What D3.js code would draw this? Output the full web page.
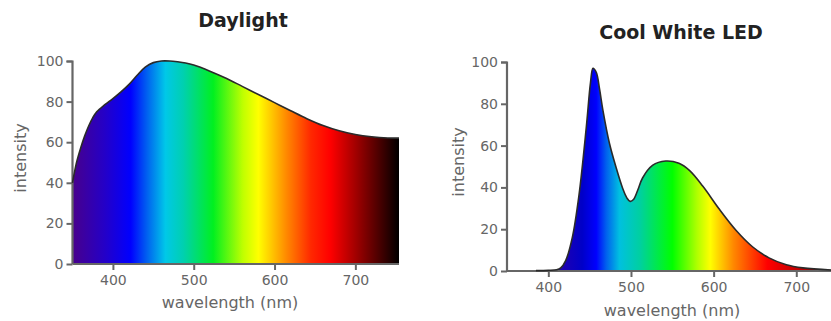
<!DOCTYPE html>
<html><head><meta charset="utf-8">
<script src="https://cdn.jsdelivr.net/npm/d3@7"></script>
<style>
html,body{margin:0;padding:0;background:#fff;}
svg{display:block;}
text{font-family:"DejaVu Sans",sans-serif;}
</style></head>
<body>
<svg id="c" width="831" height="321"></svg>
<script>
// ---- data ----
const yTicks = [0, 20, 40, 60, 80, 100];
const xTicks = [400, 500, 600, 700];

const dayWl  = [350,355,360,365,370,375,380,390,400,410,420,430,440,450,460,470,480,490,500,520,540,560,580,600,620,640,660,680,700,720,740,754];
const dayVal = [40,50,57,63,68,72,75,78.5,81.5,84.8,88.5,93,97,99.2,100,100,99.6,99,98,95,91.5,87.5,83.5,79.5,75.5,71.6,68.2,65.6,63.8,62.7,62.1,62];

const ledWl  = [385,400,410,415,421,429,437,446,451,454,458,462,466,474,482,490,495,499,503,508,514,526,542,558,571,587,607,627,647,667,688,708,742];
const ledVal = [0.2,0.3,0.6,1.5,5,16,36,69,90,97,95,87,77,61,49.5,39.5,35,33.3,34.2,38.5,44.5,50.5,52.6,51.5,48,40.5,29.5,19.5,11.6,6.3,3,1.5,0.5];

const dayStopWl  = [350,390,422,442,465,487,524,561,580,615,645,669,701,754];
const dayStopCol = ["#48008c","#2400c8","#0000ff","#0060f0","#00c8e8","#00d0b0","#00f020","#c0ff00","#ffff00","#ff8800","#ff2800","#ff0000","#a00000","#000000"];

const ledStopWl  = [415,441,458,470,486,511,550,580,596,624,665,713,742];
const ledStopCol = ["#2000b0","#0000c8","#0000ff","#0060ee","#00c0e0","#00d0a0","#00ff00","#b0ff00","#ffff00","#ff8800","#ff0000","#b00000","#700000"];

const charts = [
  {title:"Daylight", wl:dayWl, val:dayVal, stopWl:dayStopWl, stopCol:dayStopCol,
   xd:[350,754], xr:[72.5,399], yr:[264,61], titleX:243, titleY:27, xlabX:230, xlabY:308, ylabX:26, ylabY:158, id:"g1"},
  {title:"Cool White LED", wl:ledWl, val:ledVal, stopWl:ledStopWl, stopCol:ledStopCol,
   xd:[350,742], xr:[507,831], yr:[271,62], titleX:681, titleY:39, xlabX:672, xlabY:316, ylabX:464, ylabY:162, id:"g2"}
];

const svg = d3.select("#c");
const defs = svg.append("defs");
const gray = "#666";

charts.forEach(c => {
  const x = d3.scaleLinear().domain(c.xd).range(c.xr);
  const y = d3.scaleLinear().domain([0,100]).range(c.yr);
  const pts = c.wl.map((w,i)=>[w,c.val[i]]);

  const grad = defs.append("linearGradient").attr("id", c.id)
    .attr("gradientUnits","userSpaceOnUse")
    .attr("x1", x(c.stopWl[0])).attr("x2", x(c.stopWl[c.stopWl.length-1]))
    .attr("y1",0).attr("y2",0);
  const span = c.stopWl[c.stopWl.length-1]-c.stopWl[0];
  c.stopWl.forEach((w,i)=>{
    grad.append("stop").attr("offset", (w-c.stopWl[0])/span).attr("stop-color", c.stopCol[i]);
  });

  const g = svg.append("g");
  const crv = d3.curveCatmullRom.alpha(0.5);
  const area = d3.area().x(d=>x(d[0])).y0(y(0)).y1(d=>y(Math.max(0,d[1]))).curve(crv);
  const line = d3.line().x(d=>x(d[0])).y(d=>y(d[1])).curve(crv);

  g.append("path").datum(pts).attr("d", area).attr("fill", `url(#${c.id})`);

  // axes
  const yAxis = d3.axisLeft(y).tickValues(yTicks).tickSize(6).tickPadding(3);
  const ya = g.append("g").attr("transform", `translate(${c.xr[0]},0)`).call(yAxis);
  const xAxis = d3.axisBottom(x).tickValues(xTicks).tickSize(6).tickPadding(5);
  const xa = g.append("g").attr("transform", `translate(0,${c.yr[0]})`).call(xAxis);
  [ya, xa].forEach(a=>{
    a.select(".domain").attr("stroke", gray).attr("stroke-width", 2.2);
    a.selectAll(".tick line").attr("stroke", gray).attr("stroke-width", 2);
    a.selectAll(".tick text").attr("fill", gray).style("font-size","14px").style("font-family","DejaVu Sans");
  });
  ya.select(".domain").attr("d", `M-6,${c.yr[1]+0.5}H0V${c.yr[0]}`);
  xa.select(".domain").attr("d", `M${c.xr[0]},0H${c.xr[1]}`);

  g.append("path").datum(pts).attr("d", line).attr("fill","none")
    .attr("stroke","#2a2a2a").attr("stroke-width",1.6);

  g.append("text").attr("x", c.titleX).attr("y", c.titleY).attr("text-anchor","middle")
    .attr("fill","#222").style("font-size","19px").style("font-weight","bold").text(c.title);
  g.append("text").attr("x", c.xlabX).attr("y", c.xlabY).attr("text-anchor","middle")
    .attr("fill", gray).style("font-size","16px").text("wavelength (nm)");
  g.append("text").attr("transform", `translate(${c.ylabX},${c.ylabY}) rotate(-90)`)
    .attr("text-anchor","middle").attr("fill", gray).style("font-size","16px").text("intensity");
});
</script>
</body></html>
